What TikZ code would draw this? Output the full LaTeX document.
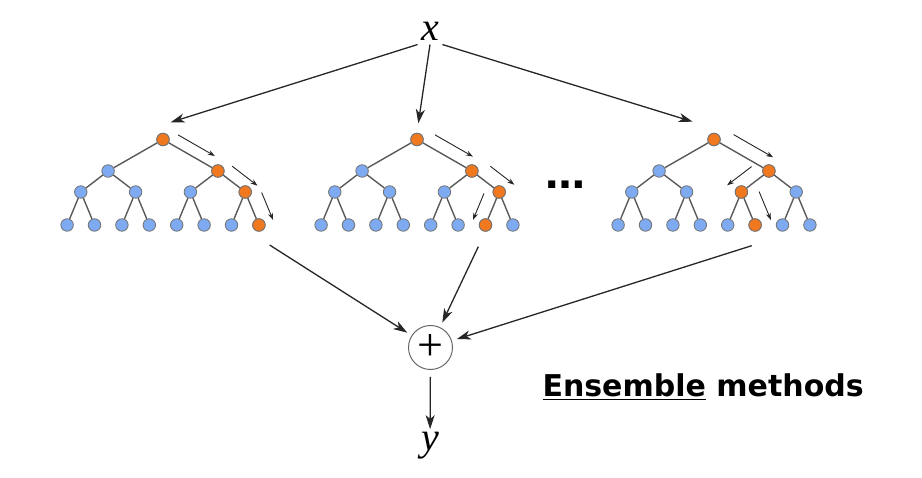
\documentclass[tikz,border=0pt]{standalone}
\usepackage{fontspec}
\setmainfont{Liberation Serif}
\newfontfamily\labelfont{DejaVu Sans}
\usepackage{tikz}
\usetikzlibrary{calc,positioning,arrows.meta}

\definecolor{nodeblue}{RGB}{125,170,240}
\definecolor{nodeorange}{RGB}{240,120,30}
\definecolor{edgegray}{RGB}{90,90,90}

\tikzset{
  tnode/.style={circle,draw=gray!90!black,line width=0.8pt,fill=nodeblue,minimum size=12.5pt,inner sep=0pt},
  hit/.style={tnode,fill=nodeorange},
  edge/.style={edgegray,line width=1.4pt},
  hint/.style={-{Stealth[length=7pt,width=5pt]},line width=0.9pt,black!85},
  flow/.style={-{Stealth[length=14pt,width=9pt,inset=4pt]},line width=1.3pt,black!85},
}

% one full binary tree of depth 3, root at (#2,139.5)
\newcommand{\drawtree}[2]{%
  \node[tnode] (#1r) at (#2,139.5) {};
  \foreach \i in {1,2}
    \node[tnode] (#1a\i) at ({#2+(\i-1.5)*109.8},171) {};
  \foreach \i in {1,...,4}
    \node[tnode] (#1b\i) at ({#2+(\i-2.5)*54.8},192) {};
  \foreach \i in {1,...,8}
    \node[tnode] (#1c\i) at ({#2+(\i-4.5)*27.4},225) {};
  \foreach \i in {1,2}
    \draw[edge] (#1r) -- (#1a\i);
  \foreach \i in {1,...,4}
    {\pgfmathtruncatemacro\p{ceil(\i/2)}
     \draw[edge] (#1a\p) -- (#1b\i);}
  \foreach \i in {1,...,8}
    {\pgfmathtruncatemacro\p{ceil(\i/2)}
     \draw[edge] (#1b\p) -- (#1c\i);}
}

% small arrow beside an edge: from, to, side, offset, start, end
\newcommand{\hint}[6]{%
  \coordinate (h1) at ($(#1)!#4!#3:(#2)$);
  \coordinate (h2) at ($(#2)+(h1)-(#1)$);
  \draw[hint] ($(h1)!#5!(h2)$) -- ($(h1)!#6!(h2)$);
}

\begin{document}
\begin{tikzpicture}[x=1pt,y=-1pt]
	\useasboundingbox (0,0) rectangle (922,478);
	\drawtree{t1}{163}
	\drawtree{t2}{417}
	\drawtree{t3}{714}
	\foreach \n in {t1r,t1a2,t1b4,t1c8,t2r,t2a2,t2b4,t2c7,t3r,t3a2,t3b3,t3c6}
		\node[hit] at (\n) {};
	% path hints
	\hint{t1r}{t1a2}{90}{11.5pt}{.17}{.84}
	\hint{t1a2}{t1b4}{90}{12.5pt}{.24}{1.17}
	\hint{t1b4}{t1c8}{90}{15pt}{.19}{1.02}
	\hint{t2r}{t2a2}{90}{13pt}{.21}{.9}
	\hint{t2a2}{t2b4}{90}{15pt}{.34}{1.22}
	\hint{t2b4}{t2c7}{-90}{13.5pt}{.2}{1.0}
	\hint{t3r}{t3a2}{90}{14pt}{.23}{.95}
	\hint{t3a2}{t3b3}{-90}{14pt}{.32}{1.21}
	\hint{t3b3}{t3c6}{90}{16.5pt}{.18}{1.04}
	\node[font=\labelfont\bfseries\fontsize{40}{44}\selectfont] (dots) at (565,185) {…};
	% input, combiner, output
	\node[font=\fontsize{40}{44}\selectfont\itshape,anchor=base] (x) at (430,41) {x};
	\node[circle,draw=gray!80!black,line width=1pt,minimum size=44pt,inner sep=0pt,
		font=\fontsize{46}{48}\selectfont] (plus) at (430.5,347.5) {+};
	\node[font=\fontsize{40}{44}\selectfont\itshape,anchor=base] (y) at (430,451) {y};
	\coordinate (e1) at ($(t1r)+(7.7,-17.2)$);
	\coordinate (e2) at ($(t2r)+(1.3,-16.2)$);
	\coordinate (e3) at ($(t3r)+(-21.3,-17.8)$);
	\draw[flow] (x.south west) -- (e1);
	\draw[flow] (x.south) -- (e2);
	\draw[flow] (x.south east) -- (e3);
	\coordinate (s1) at ($(t1c8)+(10.7,20)$);
	\coordinate (s2) at ($(t2c7)+(-7.2,21.7)$);
	\coordinate (s3) at ($(t3c6)+(-3.4,20.7)$);
	\draw[flow,shorten >=5pt] (s1) -- (plus);
	\draw[flow,shorten >=5pt] (s2) -- (plus);
	\draw[flow,shorten >=5pt] (s3) -- (plus);
	\draw[flow,shorten <=7pt] (plus) -- (y);
	\node[font=\labelfont\bfseries\fontsize{30}{32}\selectfont,anchor=base west] (title) at (539,397)
		{\underline{Ensemble}\hspace{0.35em}methods};
\end{tikzpicture}
\end{document}
